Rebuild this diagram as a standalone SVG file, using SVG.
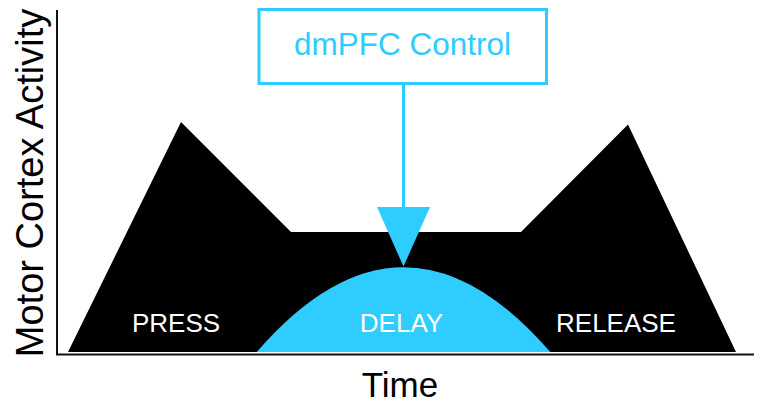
<svg xmlns="http://www.w3.org/2000/svg" width="760" height="408" viewBox="0 0 760 408">
<style>
.lbl{font-family:"Liberation Sans",Arial,sans-serif;font-size:26px;fill:#ffffff;text-anchor:middle}
.ax{font-family:"Liberation Sans",Arial,sans-serif;fill:#000000;text-anchor:middle}
.cy{fill:#2ECCFF}
.axis{stroke:#111111;stroke-width:2;fill:none}
</style>
<rect width="760" height="408" fill="#ffffff"/>
<g id="activity">
<polygon points="68,352 181,122 291,232 521,232 628,124.5 736,352" fill="#000000"/>
</g>
<g id="delay">
<path class="cy" d="M256.7,352 Q403.5,182.4 550.3,352 Z"/>
</g>
<g id="axes">
<line class="axis" x1="57" y1="10" x2="57" y2="355"/>
<line class="axis" x1="56" y1="354.5" x2="754" y2="354.5"/>
</g>
<g id="dmpfc">
<rect x="259" y="9.5" width="287.5" height="74" fill="none" stroke="#2ECCFF" stroke-width="3"/>
<text x="402.5" y="55" font-family="Liberation Sans,Arial,sans-serif" font-size="31.5" fill="#2ECCFF" text-anchor="middle">dmPFC Control</text>
</g>
<g id="connectors">
<line x1="403.5" y1="84" x2="403.5" y2="208" stroke="#2ECCFF" stroke-width="3"/>
<polygon class="cy" points="377,207 430,207 403.5,266.5"/>
</g>
<g id="labels">
<text class="lbl" x="176" y="332">PRESS</text>
<text class="lbl" x="401.5" y="332" font-size="25.5">DELAY</text>
<text class="lbl" x="616" y="332" font-size="25.7">RELEASE</text>
<text class="ax" x="400" y="397" font-size="35">Time</text>
<text class="ax" transform="translate(43.3,183) rotate(-90)" x="0" y="0" font-size="38">Motor Cortex Activity</text>
</g>
</svg>
